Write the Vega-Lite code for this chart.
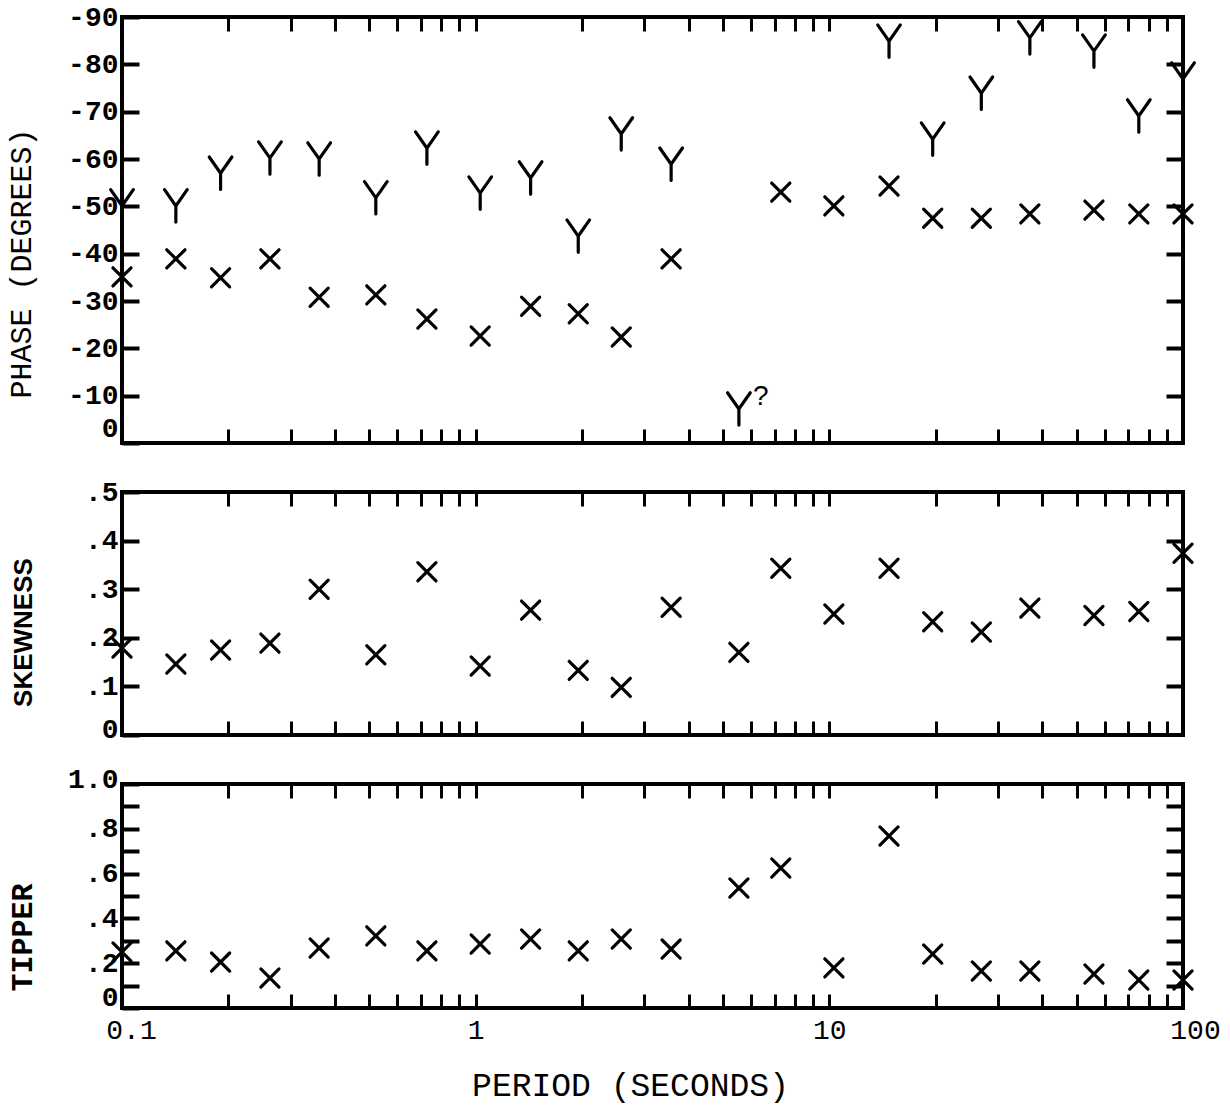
{
  "$schema": "https://vega.github.io/schema/vega-lite/v6.json",
  "background": "white",
  "padding": {"left": 4, "top": 1, "right": 5, "bottom": 5},
  "bounds": "flush",
  "spacing": 49,
  "config": {
    "view": {"stroke": "black", "strokeWidth": 4},
    "axis": {
      "grid": false, "domain": false, "tickColor": "black", "labelColor": "black", "titleColor": "black",
      "labelFlush": false, "labelOverlap": false, "labelBound": false
    }
  },
  "datasets": {
    "phase": [
      {"period": 0.1, "phase": -35.1, "comp": "x"},
      {"period": 0.142, "phase": -38.9, "comp": "x"},
      {"period": 0.19, "phase": -34.9, "comp": "x"},
      {"period": 0.262, "phase": -38.9, "comp": "x"},
      {"period": 0.361, "phase": -30.8, "comp": "x"},
      {"period": 0.522, "phase": -31.3, "comp": "x"},
      {"period": 0.728, "phase": -26.2, "comp": "x"},
      {"period": 1.03, "phase": -22.6, "comp": "x"},
      {"period": 1.43, "phase": -28.9, "comp": "x"},
      {"period": 1.95, "phase": -27.3, "comp": "x"},
      {"period": 2.58, "phase": -22.4, "comp": "x"},
      {"period": 3.57, "phase": -38.9, "comp": "x"},
      {"period": 7.29, "phase": -53.0, "comp": "x"},
      {"period": 10.3, "phase": -50.1, "comp": "x"},
      {"period": 14.75, "phase": -54.3, "comp": "x"},
      {"period": 19.6, "phase": -47.5, "comp": "x"},
      {"period": 26.9, "phase": -47.5, "comp": "x"},
      {"period": 36.9, "phase": -48.4, "comp": "x"},
      {"period": 56.0, "phase": -49.2, "comp": "x"},
      {"period": 75.0, "phase": -48.4, "comp": "x"},
      {"period": 100, "phase": -48.4, "comp": "x"},
      {"period": 0.1, "phase": -50.1, "comp": "y"},
      {"period": 0.142, "phase": -50.1, "comp": "y"},
      {"period": 0.19, "phase": -57.0, "comp": "y"},
      {"period": 0.262, "phase": -60.2, "comp": "y"},
      {"period": 0.361, "phase": -60.0, "comp": "y"},
      {"period": 0.522, "phase": -51.8, "comp": "y"},
      {"period": 0.728, "phase": -62.3, "comp": "y"},
      {"period": 1.03, "phase": -52.8, "comp": "y"},
      {"period": 1.43, "phase": -56.0, "comp": "y"},
      {"period": 1.95, "phase": -43.7, "comp": "y"},
      {"period": 2.58, "phase": -65.3, "comp": "y"},
      {"period": 3.57, "phase": -58.9, "comp": "y"},
      {"period": 5.55, "phase": -7.2, "comp": "y", "note": "?"},
      {"period": 14.75, "phase": -84.9, "comp": "y"},
      {"period": 19.6, "phase": -64.2, "comp": "y"},
      {"period": 26.9, "phase": -73.9, "comp": "y"},
      {"period": 36.9, "phase": -85.6, "comp": "y"},
      {"period": 56.0, "phase": -82.8, "comp": "y"},
      {"period": 75.0, "phase": -69.1, "comp": "y"},
      {"period": 100, "phase": -76.9, "comp": "y"}
    ],
    "skew": [
      {"period": 0.1, "skewness": 0.179},
      {"period": 0.142, "skewness": 0.146},
      {"period": 0.19, "skewness": 0.175},
      {"period": 0.262, "skewness": 0.189},
      {"period": 0.361, "skewness": 0.300},
      {"period": 0.522, "skewness": 0.165},
      {"period": 0.728, "skewness": 0.336},
      {"period": 1.03, "skewness": 0.142},
      {"period": 1.43, "skewness": 0.257},
      {"period": 1.95, "skewness": 0.133},
      {"period": 2.58, "skewness": 0.098},
      {"period": 3.57, "skewness": 0.263},
      {"period": 5.55, "skewness": 0.170},
      {"period": 7.29, "skewness": 0.343},
      {"period": 10.3, "skewness": 0.249},
      {"period": 14.75, "skewness": 0.343},
      {"period": 19.6, "skewness": 0.233},
      {"period": 26.9, "skewness": 0.212},
      {"period": 36.9, "skewness": 0.261},
      {"period": 56.0, "skewness": 0.246},
      {"period": 75.0, "skewness": 0.254},
      {"period": 100, "skewness": 0.374}
    ],
    "tip": [
      {"period": 0.1, "tipper": 0.25},
      {"period": 0.142, "tipper": 0.255},
      {"period": 0.19, "tipper": 0.205},
      {"period": 0.262, "tipper": 0.134},
      {"period": 0.361, "tipper": 0.268},
      {"period": 0.522, "tipper": 0.322},
      {"period": 0.728, "tipper": 0.255},
      {"period": 1.03, "tipper": 0.286},
      {"period": 1.43, "tipper": 0.308},
      {"period": 1.95, "tipper": 0.255},
      {"period": 2.58, "tipper": 0.308},
      {"period": 3.57, "tipper": 0.263},
      {"period": 5.55, "tipper": 0.536},
      {"period": 7.29, "tipper": 0.625},
      {"period": 10.3, "tipper": 0.179},
      {"period": 14.75, "tipper": 0.768},
      {"period": 19.6, "tipper": 0.241},
      {"period": 26.9, "tipper": 0.165},
      {"period": 36.9, "tipper": 0.165},
      {"period": 56.0, "tipper": 0.152},
      {"period": 75.0, "tipper": 0.125},
      {"period": 100, "tipper": 0.125}
    ]
  },
  "vconcat": [
    {
      "width": 1061, "height": 426,
      "data": {"name": "phase"},
      "resolve": {"axis": {"x": "independent", "y": "independent"}},
      "layer": [
        {
          "transform": [{"filter": "datum.comp == 'x'"}],
          "mark": {"type": "point", "shape": "M-1,-1L1,1M-1,1L1,-1", "size": 330, "filled": false, "stroke": "black", "strokeWidth": 3.2, "strokeCap": "round", "opacity": 1},
          "encoding": {
            "x": {"field": "period", "type": "quantitative", "scale": {"type": "log", "domain": [0.1, 100], "nice": false},
              "axis": {"orient": "bottom", "values": [0.2,0.3,0.4,0.5,0.6,0.7,0.8,0.9,1,2,3,4,5,6,7,8,9,10,20,30,40,50,60,70,80,90], "labels": false, "tickSize": -14, "tickWidth": 3, "title": null}},
            "y": {"field": "phase", "type": "quantitative", "scale": {"domain": [-90, 0], "reverse": true, "nice": false, "zero": false},
              "axis": {"orient": "left", "values": [-90,-80,-70,-60,-50,-40,-30,-20,-10,0], "labelExpr": "toString(datum.value)", "labelOffset": {"condition": {"test": "datum.value == 0", "value": -15}, "value": 0}, "tickSize": -17, "tickWidth": 4, "labelPadding": 21, "labelFont": "Liberation Mono", "labelFontSize": 28, "labelFontWeight": "bold",
                "title": "PHASE  (DEGREES)", "titleFont": "Liberation Mono", "titleFontSize": 30, "titleFontWeight": "normal", "titleAngle": 270, "titleX": -101, "titleY": 246, "titleAlign": "center", "titleBaseline": "middle"}}
          }
        },
        {
          "transform": [{"filter": "datum.comp == 'y'"}],
          "mark": {"type": "point", "shape": "M-0.7,-1L0,0L0.7,-1M0,0L0,1", "size": 1050, "filled": false, "stroke": "black", "strokeWidth": 3.2, "strokeCap": "round", "opacity": 1},
          "encoding": {
            "x": {"field": "period", "type": "quantitative",
              "axis": {"orient": "top", "values": [0.2,0.3,0.4,0.5,0.6,0.7,0.8,0.9,1,2,3,4,5,6,7,8,9,10,20,30,40,50,60,70,80,90], "labels": false, "tickSize": -14, "tickWidth": 3, "title": null}},
            "y": {"field": "phase", "type": "quantitative",
              "axis": {"orient": "right", "values": [-80,-70,-60,-50,-40,-30,-20,-10], "labels": false, "tickSize": -17, "tickWidth": 4, "title": null}}
          }
        },
        {
          "transform": [{"filter": "datum.note == '?'"}],
          "mark": {"type": "text", "text": "?", "font": "Liberation Sans", "fontSize": 28, "dx": 22, "dy": -12, "color": "black"},
          "encoding": {
            "x": {"field": "period", "type": "quantitative", "axis": null},
            "y": {"field": "phase", "type": "quantitative", "axis": null}
          }
        }
      ]
    },
    {
      "width": 1061, "height": 243,
      "data": {"name": "skew"},
      "resolve": {"axis": {"x": "independent", "y": "independent"}},
      "layer": [
        {
          "mark": {"type": "point", "shape": "M-1,-1L1,1M-1,1L1,-1", "size": 330, "filled": false, "stroke": "black", "strokeWidth": 3.2, "strokeCap": "round", "opacity": 1},
          "encoding": {
            "x": {"field": "period", "type": "quantitative", "scale": {"type": "log", "domain": [0.1, 100], "nice": false},
              "axis": {"orient": "bottom", "values": [0.2,0.3,0.4,0.5,0.6,0.7,0.8,0.9,1,2,3,4,5,6,7,8,9,10,20,30,40,50,60,70,80,90], "labels": false, "tickSize": -14, "tickWidth": 3, "title": null}},
            "y": {"field": "skewness", "type": "quantitative", "scale": {"domain": [0, 0.5], "nice": false, "zero": false},
              "axis": {"orient": "left", "values": [0, 0.1, 0.2, 0.3, 0.4, 0.5], "labelExpr": "datum.value == 0 ? '0' : replace(format(datum.value, '.1f'), '0.', '.')", "labelOffset": {"condition": {"test": "datum.value == 0", "value": -6}, "value": 0}, "tickSize": -17, "tickWidth": 4, "labelPadding": 21, "labelFont": "Liberation Mono", "labelFontSize": 28, "labelFontWeight": "bold",
                "title": "SKEWNESS", "titleFont": "Liberation Sans", "titleFontSize": 26, "titleFontWeight": "bold", "titleAngle": 270, "titleX": -99, "titleY": 140, "titleAlign": "center", "titleBaseline": "middle"}}
          }
        },
        {
          "mark": {"type": "point", "opacity": 0},
          "encoding": {
            "x": {"field": "period", "type": "quantitative",
              "axis": {"orient": "top", "values": [0.2,0.3,0.4,0.5,0.6,0.7,0.8,0.9,1,2,3,4,5,6,7,8,9,10,20,30,40,50,60,70,80,90], "labels": false, "tickSize": -14, "tickWidth": 3, "title": null}},
            "y": {"field": "skewness", "type": "quantitative",
              "axis": {"orient": "right", "values": [0.1, 0.2, 0.3, 0.4], "labels": false, "tickSize": -17, "tickWidth": 4, "title": null}}
          }
        }
      ]
    },
    {
      "width": 1061, "height": 224,
      "data": {"name": "tip"},
      "resolve": {"axis": {"x": "independent", "y": "independent"}},
      "layer": [
        {
          "mark": {"type": "point", "shape": "M-1,-1L1,1M-1,1L1,-1", "size": 330, "filled": false, "stroke": "black", "strokeWidth": 3.2, "strokeCap": "round", "opacity": 1},
          "encoding": {
            "x": {"field": "period", "type": "quantitative", "scale": {"type": "log", "domain": [0.1, 100], "nice": false},
              "axis": {"orient": "bottom", "values": [0.1,0.2,0.3,0.4,0.5,0.6,0.7,0.8,0.9,1,2,3,4,5,6,7,8,9,10,20,30,40,50,60,70,80,90,100], "labelExpr": "datum.value == 0.1 ? '0.1' : datum.value == 1 ? '1' : datum.value == 10 ? '10' : datum.value == 100 ? '100' : ''", "labelOffset": {"condition": [{"test": "datum.value == 0.1", "value": 9}, {"test": "datum.value == 100", "value": 12}], "value": 0}, "tickSize": -14, "tickWidth": 3, "labelPadding": 22, "labelFont": "Liberation Mono", "labelFontSize": 28,
                "title": "PERIOD (SECONDS)", "titleFont": "Liberation Mono", "titleFontSize": 33, "titleFontWeight": "normal", "titleX": 508, "titleY": 77, "titleAlign": "center", "titleBaseline": "middle"}},
            "y": {"field": "tipper", "type": "quantitative", "scale": {"domain": [0, 1], "nice": false, "zero": false},
              "axis": {"orient": "left", "values": [0, 0.1, 0.2, 0.3, 0.4, 0.5, 0.6, 0.7, 0.8, 0.9, 1], "labelExpr": "datum.value == 0 ? '0' : datum.value == 1 ? '1.0' : (round(datum.value * 10) % 2 == 1 ? '' : replace(format(datum.value, '.1f'), '0.', '.'))", "labelOffset": {"condition": [{"test": "datum.value == 0", "value": -11}, {"test": "datum.value == 1", "value": -5}], "value": 0}, "tickSize": -17, "tickWidth": 4, "labelPadding": 21, "labelFont": "Liberation Mono", "labelFontSize": 28, "labelFontWeight": "bold",
                "title": "TIPPER", "titleFont": "Liberation Mono", "titleFontSize": 30, "titleFontWeight": "bold", "titleAngle": 270, "titleX": -100, "titleY": 153, "titleAlign": "center", "titleBaseline": "middle"}}
          }
        },
        {
          "mark": {"type": "point", "opacity": 0},
          "encoding": {
            "x": {"field": "period", "type": "quantitative",
              "axis": {"orient": "top", "values": [0.2,0.3,0.4,0.5,0.6,0.7,0.8,0.9,1,2,3,4,5,6,7,8,9,10,20,30,40,50,60,70,80,90], "labels": false, "tickSize": -14, "tickWidth": 3, "title": null}},
            "y": {"field": "tipper", "type": "quantitative",
              "axis": {"orient": "right", "values": [0.1, 0.2, 0.3, 0.4, 0.5, 0.6, 0.7, 0.8, 0.9], "labels": false, "tickSize": -17, "tickWidth": 4, "title": null}}
          }
        }
      ]
    }
  ]
}
